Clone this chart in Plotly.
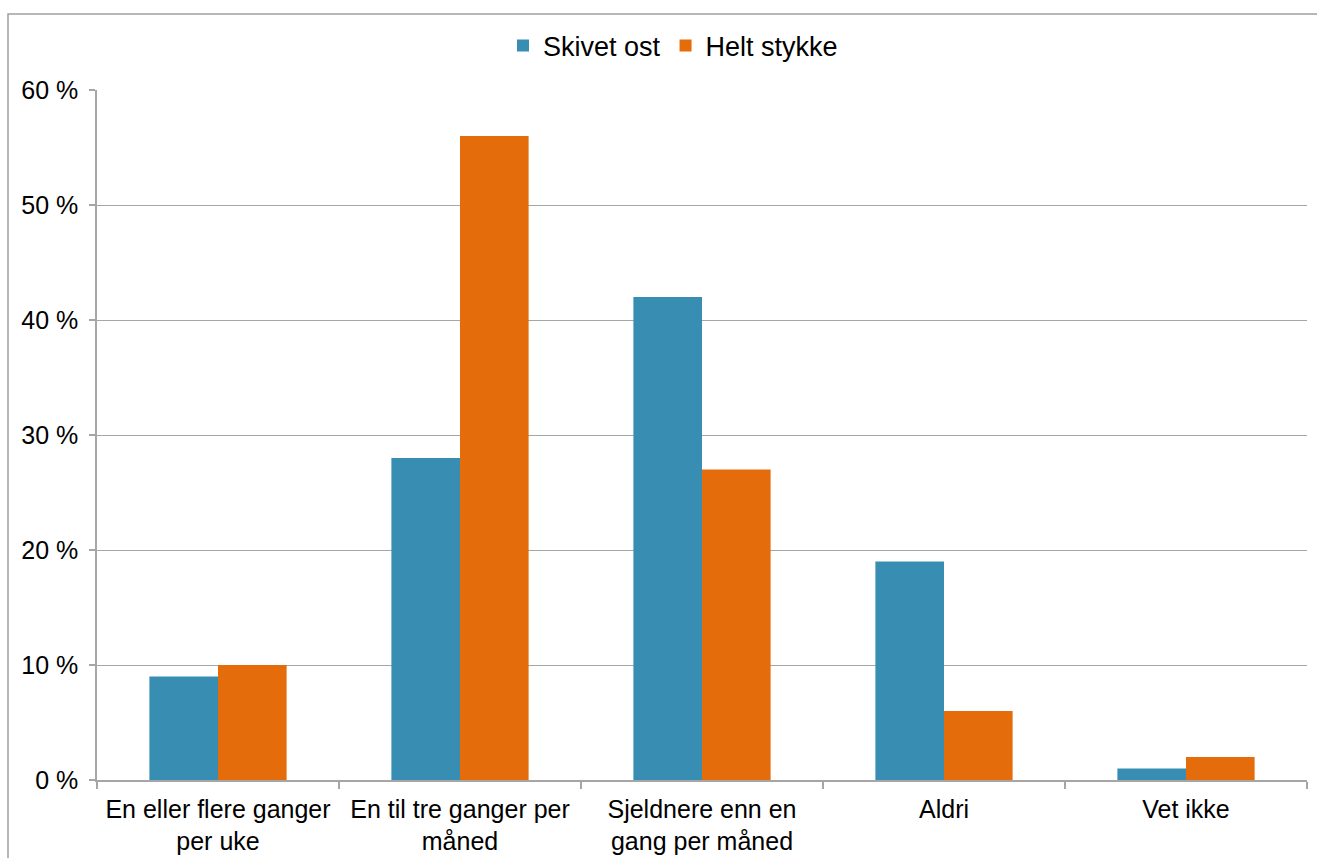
import plotly.graph_objects as go

categories = [
    "En eller flere ganger<br>per uke",
    "En til tre ganger per<br>måned",
    "Sjeldnere enn en<br>gang per måned",
    "Aldri",
    "Vet ikke",
]
skivet_ost = [9, 28, 42, 19, 1]
helt_stykke = [10, 56, 27, 6, 2]
y_ticks = [0, 10, 20, 30, 40, 50, 60]
y_tick_labels = [f"{v} %" for v in y_ticks]

BLUE = "#378EB2"
ORANGE = "#E46C0A"
GRID = "#A6A6A6"
FONT = "Liberation Sans, Arial, sans-serif"

fig = go.Figure()
fig.add_trace(go.Bar(name="Skivet ost", x=categories, y=skivet_ost,
                     marker=dict(color=BLUE, line=dict(width=0))))
fig.add_trace(go.Bar(name="Helt stykke", x=categories, y=helt_stykke,
                     marker=dict(color=ORANGE, line=dict(width=0))))

W, H = 1317, 858
ML, MR, MT, MB = 97, 10, 90, 78
pw, ph = W - ML - MR, H - MT - MB

def px_x(p):
    return (p - ML) / pw

def px_y(p):
    return (H - MB - p) / ph

fig.update_layout(
    width=W, height=H,
    margin=dict(l=ML, r=MR, t=MT, b=MB),
    paper_bgcolor="white", plot_bgcolor="white",
    barmode="group", bargap=0.433, bargroupgap=0,
    font=dict(family=FONT, size=25, color="black"),
    legend=dict(orientation="h", x=px_x(673), xanchor="center",
                y=px_y(46), yanchor="middle",
                font=dict(size=27), itemwidth=30, traceorder="normal"),
    xaxis=dict(showline=True, linecolor=GRID, linewidth=1.5,
               ticks="outside", tickson="boundaries", ticklen=7,
               tickcolor=GRID, tickwidth=1.5, showgrid=False,
               ticklabelstandoff=6, tickfont=dict(size=25),
               automargin=False),
    yaxis=dict(range=[0, 60], tickvals=y_ticks, ticktext=y_tick_labels,
               showline=True, linecolor=GRID, linewidth=1.5,
               ticks="outside", ticklen=6, tickcolor=GRID, tickwidth=1.5,
               showgrid=True, gridcolor=GRID, gridwidth=1.2,
               zeroline=False, ticklabelstandoff=6, tickfont=dict(size=25),
               automargin=False),
    shapes=[dict(type="rect", xref="paper", yref="paper",
                 x0=px_x(8), x1=px_x(1330), y0=px_y(875), y1=px_y(14),
                 line=dict(color="#A0A0A0", width=1.5), layer="below")],
)

fig.write_html("out.html")
